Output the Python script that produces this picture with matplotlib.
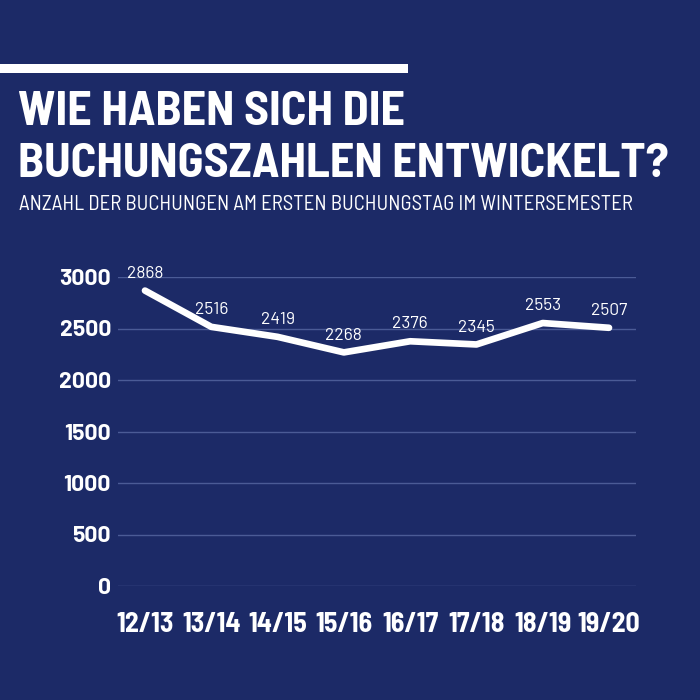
import matplotlib
matplotlib.use("Agg")
import matplotlib.pyplot as plt

seasons = ["12/13", "13/14", "14/15", "15/16", "16/17", "17/18", "18/19", "19/20"]
bookings = [2868, 2516, 2419, 2268, 2376, 2345, 2553, 2507]
y_ticks = [0, 500, 1000, 1500, 2000, 2500, 3000]

BG = "#1c2a67"
GRID = "#4b5b96"
COND = "Barlow Semi Condensed"
BAR = "Barlow"

fig = plt.figure(figsize=(7, 7), dpi=100, facecolor=BG)

W = H = 700.0
def fx(px): return px / W
def fy(py): return 1 - py / H

# top white bar
fig.patches.append(plt.Rectangle((0, fy(73)), fx(408), (73 - 64) / H,
                                 transform=fig.transFigure, facecolor="white",
                                 edgecolor="none"))

fig.text(fx(18), fy(125), "WIE HABEN SICH DIE", color="white", fontsize=34.5,
         fontweight="bold", family=COND, va="baseline", ha="left")
fig.text(fx(18), fy(177), "BUCHUNGSZAHLEN ENTWICKELT?", color="white", fontsize=34.5,
         fontweight="bold", family=COND, va="baseline", ha="left")
fig.text(fx(19), fy(210), "ANZAHL DER BUCHUNGEN AM ERSTEN BUCHUNGSTAG IM WINTERSEMESTER",
         color="white", fontsize=15, family=COND, va="baseline", ha="left")

left, right, top, bottom = 118, 636, 277, 586
ax = fig.add_axes([fx(left), fy(bottom), (right - left) / W, (bottom - top) / H])
ax.set_facecolor(BG)
x = list(range(len(seasons)))
ax.plot(x, bookings, color="white", lw=4.8, solid_capstyle="round",
        solid_joinstyle="round", clip_on=False, zorder=3)
for xi, v in zip(x, bookings):
    ax.annotate(str(v), (xi, v), xytext=(0, 12.5), textcoords="offset points",
                ha="center", va="center", color="white", fontsize=12.5, family=BAR)

ax.set_xlim(-0.407, 7.407)
ax.set_ylim(0, 3000)
ax.set_yticks(y_ticks)
ax.set_yticklabels([str(t) for t in y_ticks], color="white", fontsize=16.5,
                   fontweight="bold", family=BAR)
ax.set_xticks(x)
ax.set_xticklabels(seasons, color="white", fontsize=20, fontweight="bold", family=COND)
ax.tick_params(axis="both", length=0)
ax.tick_params(axis="y", pad=5)
ax.tick_params(axis="x", pad=19)
ax.grid(axis="y", color=GRID, lw=1)
ax.set_axisbelow(True)
for s in ax.spines.values():
    s.set_visible(False)

fig.savefig("out.png", dpi=100, facecolor=BG)
